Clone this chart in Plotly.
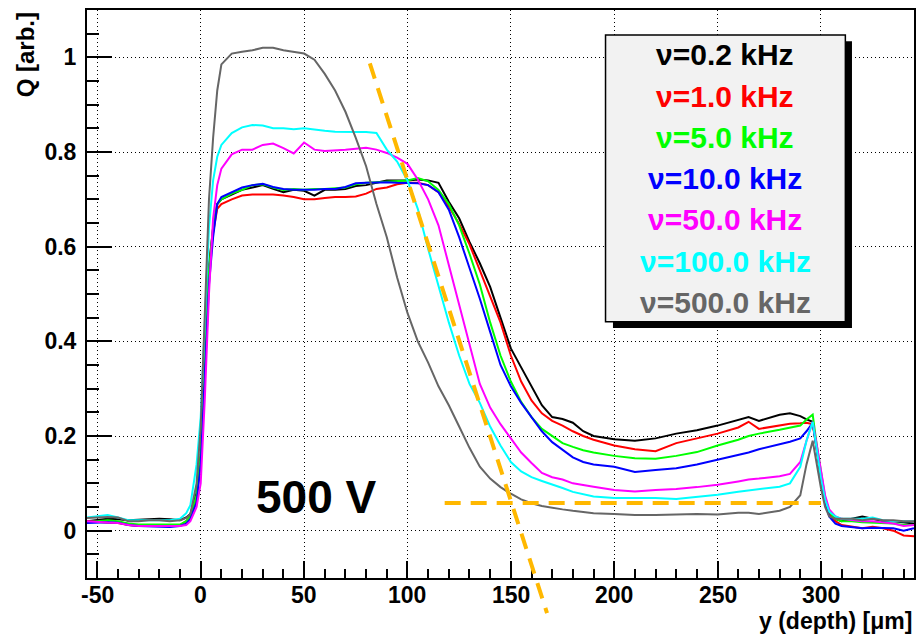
import plotly.graph_objects as go

# ---------------- data ----------------
depth_um = [-55, -50, -45, -40, -35, -30, -25, -20, -15, -10, -7, -5, -2,
            0, 2, 4, 6, 8, 10,
            15, 20, 25, 30, 35, 40, 45, 50, 55, 60, 65, 70, 75, 80, 85, 90, 95, 100, 105, 110, 115,
            120, 125, 130, 135, 140, 145, 150, 155, 160, 165, 170, 175, 180, 185, 190,
            200, 210, 220, 230, 240, 250, 260, 265, 270, 280, 285, 290,
            293, 296, 298, 300, 302, 304, 307, 310, 315, 320, 325, 330, 335, 340, 345]

q_0p2kHz = [0.020, 0.022, 0.025, 0.024, 0.022, 0.023, 0.024, 0.025, 0.024, 0.022, 0.028, 0.035, 0.080,
            0.160, 0.380, 0.560, 0.640, 0.690, 0.700,
            0.710, 0.720, 0.725, 0.730, 0.722, 0.715, 0.720, 0.718, 0.708, 0.720, 0.720, 0.722, 0.728, 0.730, 0.735, 0.740, 0.740, 0.740, 0.742, 0.740, 0.735,
            0.695, 0.660, 0.610, 0.565, 0.515, 0.450, 0.385, 0.345, 0.305, 0.265, 0.240, 0.236, 0.228, 0.210, 0.200,
            0.193, 0.190, 0.195, 0.205, 0.212, 0.222, 0.235, 0.240, 0.232, 0.245, 0.248, 0.242,
            0.235, 0.230, 0.170, 0.110, 0.065, 0.040, 0.025, 0.020, 0.025, 0.030, 0.025, 0.020, 0.020, 0.018, 0.015]

q_1kHz = [0.020, 0.018, 0.017, 0.016, 0.012, 0.010, 0.010, 0.009, 0.010, 0.012, 0.020, 0.030, 0.070,
          0.150, 0.360, 0.550, 0.630, 0.680, 0.690,
          0.700, 0.708, 0.710, 0.710, 0.710, 0.708, 0.705, 0.700, 0.700, 0.703, 0.705, 0.705, 0.706, 0.712, 0.722, 0.725, 0.732, 0.735, 0.735, 0.730, 0.715,
          0.685, 0.648, 0.605, 0.552, 0.495, 0.440, 0.370, 0.315, 0.275, 0.248, 0.232, 0.222, 0.210, 0.200, 0.192,
          0.180, 0.172, 0.168, 0.185, 0.195, 0.205, 0.218, 0.230, 0.215, 0.222, 0.226, 0.227,
          0.228, 0.225, 0.170, 0.110, 0.060, 0.035, 0.020, 0.012, 0.008, 0.005, 0.008, 0.005, 0.000, -0.010, -0.012]

q_5kHz = [0.018, 0.020, 0.022, 0.020, 0.015, 0.013, 0.013, 0.012, 0.012, 0.013, 0.020, 0.030, 0.075,
          0.160, 0.370, 0.550, 0.640, 0.690, 0.700,
          0.712, 0.720, 0.730, 0.732, 0.725, 0.720, 0.722, 0.720, 0.722, 0.722, 0.723, 0.725, 0.732, 0.735, 0.736, 0.737, 0.738, 0.740, 0.745, 0.738, 0.720,
          0.690, 0.645, 0.585, 0.520, 0.440, 0.370, 0.315, 0.272, 0.240, 0.215, 0.200, 0.185, 0.177, 0.170, 0.165,
          0.158, 0.153, 0.152, 0.158, 0.166, 0.180, 0.192, 0.200, 0.205, 0.213, 0.217, 0.222,
          0.235, 0.245, 0.180, 0.120, 0.070, 0.040, 0.025, 0.020, 0.020, 0.018, 0.017, 0.015, 0.015, 0.012, 0.012]

q_10kHz = [0.016, 0.017, 0.018, 0.017, 0.012, 0.010, 0.009, 0.008, 0.008, 0.010, 0.015, 0.025, 0.060,
           0.140, 0.340, 0.520, 0.620, 0.690, 0.705,
           0.715, 0.725, 0.730, 0.733, 0.726, 0.722, 0.720, 0.720, 0.720, 0.722, 0.722, 0.726, 0.734, 0.735, 0.736, 0.736, 0.735, 0.735, 0.734, 0.730, 0.715,
           0.678, 0.620, 0.555, 0.490, 0.420, 0.350, 0.305, 0.270, 0.240, 0.210, 0.187, 0.170, 0.155, 0.145, 0.140,
           0.135, 0.124, 0.128, 0.132, 0.140, 0.150, 0.160, 0.165, 0.172, 0.182, 0.188, 0.195,
           0.210, 0.228, 0.170, 0.110, 0.060, 0.030, 0.015, 0.010, 0.008, 0.005, 0.006, 0.005, 0.005, 0.000, 0.005]

q_50kHz = [0.020, 0.018, 0.017, 0.016, 0.012, 0.010, 0.010, 0.010, 0.010, 0.010, 0.012, 0.020, 0.050,
           0.100, 0.280, 0.500, 0.660, 0.730, 0.765,
           0.795, 0.805, 0.805, 0.815, 0.818, 0.808, 0.797, 0.820, 0.805, 0.802, 0.803, 0.805, 0.807, 0.809, 0.805, 0.798, 0.788, 0.775, 0.742, 0.700, 0.645,
           0.560, 0.475, 0.390, 0.310, 0.260, 0.225, 0.195, 0.165, 0.143, 0.122, 0.113, 0.108, 0.100, 0.096, 0.093,
           0.086, 0.083, 0.086, 0.088, 0.092, 0.097, 0.104, 0.108, 0.110, 0.115, 0.120, 0.145,
           0.190, 0.230, 0.180, 0.125, 0.075, 0.045, 0.030, 0.025, 0.022, 0.020, 0.020, 0.018, 0.015, 0.010, 0.012]

q_100kHz = [0.028, 0.030, 0.033, 0.028, 0.022, 0.022, 0.022, 0.022, 0.022, 0.025, 0.037, 0.054, 0.140,
            0.240, 0.450, 0.640, 0.740, 0.790, 0.815,
            0.840, 0.852, 0.857, 0.856, 0.850, 0.850, 0.848, 0.850, 0.847, 0.845, 0.843, 0.842, 0.842, 0.842, 0.840, 0.805, 0.780, 0.740, 0.680, 0.595, 0.515,
            0.440, 0.370, 0.310, 0.270, 0.220, 0.180, 0.145, 0.125, 0.113, 0.105, 0.098, 0.090, 0.082, 0.077, 0.072,
            0.069, 0.069, 0.069, 0.067, 0.071, 0.076, 0.082, 0.085, 0.088, 0.093, 0.100, 0.135,
            0.190, 0.230, 0.170, 0.110, 0.065, 0.040, 0.030, 0.025, 0.025, 0.025, 0.028, 0.022, 0.020, 0.020, 0.020]

q_500kHz = [0.027, 0.028, 0.029, 0.028, 0.020, 0.020, 0.022, 0.022, 0.020, 0.022, 0.027, 0.035, 0.100,
            0.220, 0.470, 0.700, 0.830, 0.930, 0.985,
            1.008, 1.012, 1.015, 1.020, 1.020, 1.015, 1.012, 1.008, 0.995, 0.965, 0.930, 0.885, 0.830, 0.770, 0.690, 0.620, 0.535, 0.460, 0.400, 0.355, 0.305,
            0.265, 0.220, 0.175, 0.135, 0.110, 0.092, 0.078, 0.066, 0.058, 0.052, 0.048, 0.045, 0.042, 0.040, 0.037,
            0.035, 0.033, 0.033, 0.034, 0.035, 0.034, 0.038, 0.038, 0.035, 0.042, 0.050, 0.075,
            0.140, 0.190, 0.140, 0.090, 0.050, 0.030, 0.025, 0.025, 0.025, 0.022, 0.025, 0.022, 0.022, 0.020, 0.020]

series_names = ["\u03bd=0.2 kHz", "\u03bd=1.0 kHz", "\u03bd=5.0 kHz", "\u03bd=10.0 kHz",
                "\u03bd=50.0 kHz", "\u03bd=100.0 kHz", "\u03bd=500.0 kHz"]
series_values = [q_0p2kHz, q_1kHz, q_5kHz, q_10kHz, q_50kHz, q_100kHz, q_500kHz]
series_colors = ["#000000", "#ff0000", "#00ff00", "#0000ff", "#ff00ff", "#00ffff", "#666666"]

x_tick_vals = [-50, 0, 50, 100, 150, 200, 250, 300]
x_tick_text = ["-50", "0", "50", "100", "150", "200", "250", "300"]

# guide lines (data coordinates)
slope_line = [(81.8, 0.987), (167.5, -0.174)]
level_line = [(118.0, 0.0586), (300.0, 0.0586)]

X_RANGE = [-55, 345]
Y_RANGE = [-0.1, 1.1]

FONT = "Liberation Sans, Arial, Helvetica, sans-serif"
PLOT_TOP, PLOT_BOTTOM = 10, 578


def to_paper(x, y):
    px = (x - X_RANGE[0]) / (X_RANGE[1] - X_RANGE[0])
    py = (y - Y_RANGE[0]) / (Y_RANGE[1] - Y_RANGE[0])
    return px, py


def pix_to_paper_y(py):
    return (PLOT_BOTTOM - py) / (PLOT_BOTTOM - PLOT_TOP)


fig = go.Figure()
for name, vals, col in zip(series_names, series_values, series_colors):
    fig.add_trace(go.Scatter(x=depth_um, y=vals, mode="lines", name=name,
                             line=dict(color=col, width=2), showlegend=False))

shapes = []
for seg in (slope_line, level_line):
    (x0, y0), (x1, y1) = seg
    p0 = to_paper(x0, y0)
    p1 = to_paper(x1, y1)
    shapes.append(dict(type="line", xref="paper", yref="paper", x0=p0[0], y0=p0[1], x1=p1[0], y1=p1[1],
                       line=dict(color="#ffb800", width=4, dash="16px,10px"), layer="above"))

# legend box with shadow
shapes.append(dict(type="rect", xref="paper", yref="paper", x0=0.636, x1=0.925, y0=0.44, y1=0.945,
                   fillcolor="black", line=dict(width=0), layer="above"))
shapes.append(dict(type="rect", xref="paper", yref="paper", x0=0.627, x1=0.917, y0=0.451, y1=0.956,
                   fillcolor="#f2f2f2", line=dict(color="black", width=1.5), layer="above"))

annotations = []
for i, (name, col) in enumerate(zip(series_names, series_colors)):
    py = 55 + i * 41.2
    annotations.append(dict(xref="paper", yref="paper", x=0.772, y=pix_to_paper_y(py),
                            xanchor="center", yanchor="middle", showarrow=False, text=name,
                            font=dict(family=FONT, size=30, color=col, weight="bold")))

# x tick labels (ROOT style, placed close under the axis)
for v, t in zip(x_tick_vals, x_tick_text):
    annotations.append(dict(xref="x", yref="paper", x=v, y=pix_to_paper_y(595),
                            xanchor="center", yanchor="middle", showarrow=False, text=t,
                            font=dict(family=FONT, size=23, color="black", weight="bold")))

annotations.append(dict(xref="x", yref="y", x=56, y=0.072, xanchor="center", yanchor="middle",
                        showarrow=False, text="500 V",
                        font=dict(family=FONT, size=46, color="black", weight="bold")))
annotations.append(dict(xref="paper", yref="paper", x=1.0, y=pix_to_paper_y(621), xanchor="right",
                        yanchor="middle", showarrow=False, text="y (depth) [\u03bcm]",
                        font=dict(family=FONT, size=23, color="black", weight="bold")))
annotations.append(dict(xref="paper", yref="paper", x=-0.074, y=1.0, xanchor="center", yanchor="top",
                        showarrow=False, text="Q [arb.]", textangle=-90,
                        font=dict(family=FONT, size=24, color="black", weight="bold")))

fig.update_layout(
    width=918, height=636,
    margin=dict(l=87, r=2, t=10, b=58),
    paper_bgcolor="white", plot_bgcolor="white",
    shapes=shapes, annotations=annotations,
    showlegend=False,
    font=dict(family=FONT, color="black"),
)
fig.update_xaxes(range=X_RANGE, tickvals=x_tick_vals, showticklabels=False,
                 ticks="inside", ticklen=17, tickwidth=2, tickcolor="black",
                 showline=True, linecolor="black", linewidth=2, mirror=True,
                 showgrid=True, gridcolor="black", gridwidth=1, griddash="1px,3px",
                 zeroline=False,
                 minor=dict(dtick=10, tick0=0, ticks="inside", ticklen=9, tickwidth=2,
                            tickcolor="black", showgrid=False))
fig.update_yaxes(range=Y_RANGE, dtick=0.2, tick0=0,
                 ticks="inside", ticklen=25, tickwidth=2, tickcolor="black",
                 showline=True, linecolor="black", linewidth=2, mirror=True,
                 showgrid=True, gridcolor="black", gridwidth=1, griddash="1px,3px",
                 zeroline=False, ticklabelstandoff=4,
                 tickfont=dict(family=FONT, size=23, color="black", weight="bold"),
                 minor=dict(dtick=0.05, tick0=0, ticks="inside", ticklen=12, tickwidth=2,
                            tickcolor="black", showgrid=False))

fig.write_html("out.html")
